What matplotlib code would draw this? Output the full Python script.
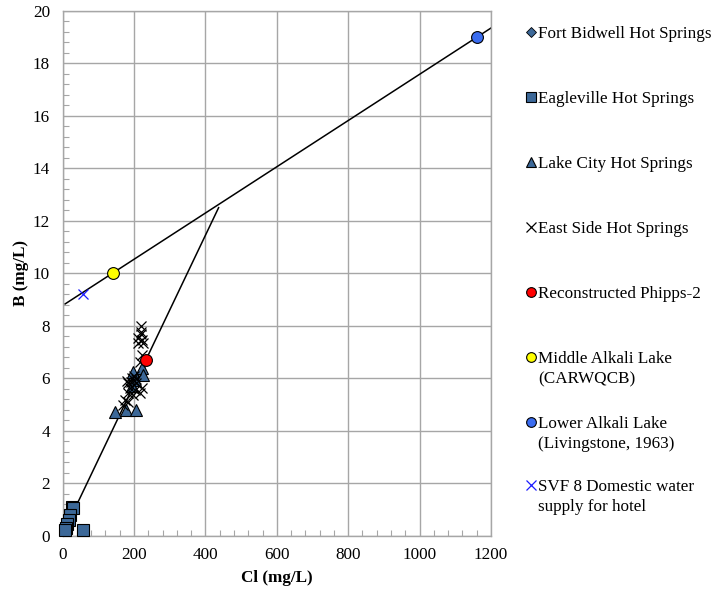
import matplotlib
matplotlib.use("Agg")
import matplotlib.pyplot as plt
from matplotlib.lines import Line2D
from matplotlib.ticker import MultipleLocator

plt.rcParams['font.family'] = ['Liberation Serif', 'DejaVu Serif']

# Chloride (mg/L) and boron (mg/L) by source
fort_bidwell_cl = [15, 20]
fort_bidwell_b = [0.4, 0.7]

eagleville_cl = [25, 29, 20, 17, 13, 10, 7, 57]
eagleville_b = [1.1, 1.05, 0.8, 0.6, 0.45, 0.3, 0.22, 0.22]

lake_city_cl = [147, 177, 205, 198, 222, 226, 203, 195]
lake_city_b = [4.72, 4.79, 4.79, 6.25, 6.38, 6.12, 5.93, 5.7]

east_side_cl = [219, 221, 212, 222, 212, 226, 219, 222, 218,
                184, 193, 207, 189, 203, 222, 184, 198, 175, 184,
                217, 170, 195, 200, 180, 205]
east_side_b = [8.0, 7.77, 7.52, 7.46, 7.33, 7.33, 7.7, 6.9, 6.6,
               5.8, 5.87, 5.8, 5.61, 5.55, 5.61, 5.42, 5.36, 5.17, 5.1,
               5.42, 4.98, 6.0, 6.1, 5.9, 5.95]

phipps_cl = [233]
phipps_b = [6.7]

middle_alkali_cl = [140]
middle_alkali_b = [10.0]

lower_alkali_cl = [1160]
lower_alkali_b = [19.0]

svf8_cl = [58]
svf8_b = [9.2]

# Mixing lines
lake_mix_cl = [7, 1200]
lake_mix_b = [8.83, 19.35]
spring_mix_cl = [2, 437]
spring_mix_b = [0.1, 12.5]

series_labels = [
    "Fort Bidwell Hot Springs",
    "Eagleville Hot Springs",
    "Lake City Hot Springs",
    "East Side Hot Springs",
    "Reconstructed Phipps-2",
    "Middle Alkali Lake\n(CARWQCB)",
    "Lower Alkali Lake\n(Livingstone, 1963)",
    "SVF 8 Domestic water\nsupply for hotel",
]

steel = "#3c6898"
grid_gray = "#a6a6a6"

fig = plt.figure(figsize=(7.13, 5.91), dpi=100)
ax = fig.add_axes([0.0878, 0.0939, 0.6008, 0.8875])

ax.plot(lake_mix_cl, lake_mix_b, color="black", lw=1.1, zorder=2)
ax.plot(spring_mix_cl, spring_mix_b, color="black", lw=1.1, zorder=2)

styles = [
    dict(marker="D", ms=5, mfc=steel, mec="black", mew=0.6, ls="none"),
    dict(marker="s", ms=8, mfc=steel, mec="black", mew=0.8, ls="none"),
    dict(marker="^", ms=9, mfc=steel, mec="black", mew=0.8, ls="none"),
    dict(marker="x", ms=7, mec="black", mew=0.9, ls="none"),
    dict(marker="o", ms=8.5, mfc="#ff0000", mec="black", mew=0.8, ls="none"),
    dict(marker="o", ms=8.5, mfc="#ffff00", mec="black", mew=0.8, ls="none"),
    dict(marker="o", ms=8.5, mfc="#3a6cf0", mec="black", mew=0.8, ls="none"),
    dict(marker="x", ms=7, mec="#1a1aff", mew=0.9, ls="none"),
]
data = [
    (fort_bidwell_cl, fort_bidwell_b),
    (eagleville_cl, eagleville_b),
    (lake_city_cl, lake_city_b),
    (east_side_cl, east_side_b),
    (phipps_cl, phipps_b),
    (middle_alkali_cl, middle_alkali_b),
    (lower_alkali_cl, lower_alkali_b),
    (svf8_cl, svf8_b),
]
for (xs, ys), st in zip(data, styles):
    ax.plot(xs, ys, zorder=3, clip_on=False, **st)

ax.set_xlim(0, 1200)
ax.set_ylim(0, 20)
ax.xaxis.set_major_locator(MultipleLocator(200))
ax.xaxis.set_minor_locator(MultipleLocator(40))
ax.yaxis.set_major_locator(MultipleLocator(2))
ax.yaxis.set_minor_locator(MultipleLocator(0.4))
ax.grid(True, which="major", color=grid_gray, lw=1.0)
ax.set_axisbelow(True)
for sp in ax.spines.values():
    sp.set_color(grid_gray)
    sp.set_linewidth(1.0)
ax.tick_params(which="both", direction="in", color=grid_gray,
               labelsize=12.3, top=False, right=False)
ax.tick_params(which="major", length=0)
ax.tick_params(which="minor", length=4, width=0.8)
ax.tick_params(axis="x", which="major", pad=8)
ax.tick_params(axis="y", which="major", pad=9)

ax.set_xlabel("Cl (mg/L)", fontsize=12.3, fontweight="bold", labelpad=5)
ax.set_ylabel("B (mg/L)", fontsize=12.3, fontweight="bold", labelpad=3)

# Legend drawn to the right of the plot, marker beside the first text line
W, H = 713, 591
leg_marker_x = 531 / W
leg_text_x = 538 / W
first_row = 31.7
row_step = 65.0
for i, (label, st) in enumerate(zip(series_labels, styles)):
    yp = first_row + i * row_step
    if i == 7:
        yp -= 2
    yf = 1 - yp / H
    leg_st = dict(st)
    leg_st["ms"] = {0: 5.5, 1: 7.5, 2: 7.5, 3: 7, 4: 7, 5: 7, 6: 7, 7: 7}[i]
    fig.add_artist(Line2D([leg_marker_x], [yf], transform=fig.transFigure, **leg_st))
    fig.text(leg_text_x, yf + 6.0 / H, label, fontsize=12.3, va="top", ha="left",
             linespacing=1.35, transform=fig.transFigure)

fig.savefig("out.png", dpi=100)
